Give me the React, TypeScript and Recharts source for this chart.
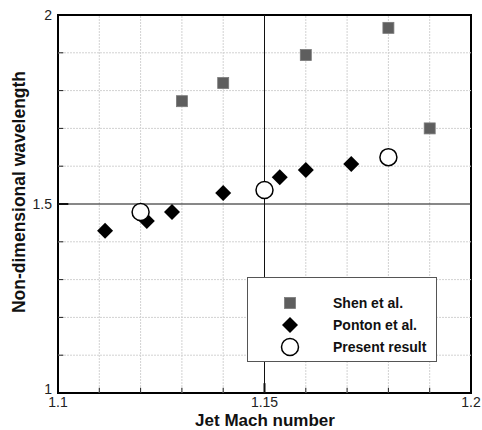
import {
  ScatterChart,
  Scatter,
  XAxis,
  YAxis,
  ReferenceLine,
  ReferenceArea,
  Legend,
} from 'recharts';

const SHEN_MACH = [1.13, 1.14, 1.16, 1.18, 1.19];
const SHEN_WAVE = [1.772, 1.82, 1.894, 1.966, 1.70];

const PONTON_MACH = [1.1114, 1.1215, 1.1276, 1.14, 1.1537, 1.16, 1.171];
const PONTON_WAVE = [1.429, 1.455, 1.479, 1.529, 1.571, 1.59, 1.606];

const PRESENT_MACH = [1.12, 1.15, 1.18];
const PRESENT_WAVE = [1.479, 1.537, 1.624];

const X_TICKS = [1.1, 1.15, 1.2];
const Y_TICKS = [1, 1.5, 2];
const X_MINOR = [1.11, 1.12, 1.13, 1.14, 1.16, 1.17, 1.18, 1.19];
const Y_MINOR = [1.1, 1.2, 1.3, 1.4, 1.6, 1.7, 1.8, 1.9];

const zip = (xs: number[], ys: number[]) => xs.map((x, i) => ({ x, y: ys[i] }));

const shen = zip(SHEN_MACH, SHEN_WAVE);
const ponton = zip(PONTON_MACH, PONTON_WAVE);
const present = zip(PRESENT_MACH, PRESENT_WAVE);

const FONT = '"Liberation Sans", Arial, sans-serif';
const GRID = '#d2d2d2';

type ShapeProps = { cx?: number; cy?: number };

const Square = ({ cx = 0, cy = 0 }: ShapeProps) => (
  <rect x={cx - 5.5} y={cy - 5.5} width={11} height={11} fill="#5e5e5e" stroke="#7a7a7a" strokeWidth={0.8} />
);

const Diamond = ({ cx = 0, cy = 0 }: ShapeProps) => (
  <path d={`M${cx},${cy - 8}L${cx + 8},${cy}L${cx},${cy + 8}L${cx - 8},${cy}Z`} fill="#000" />
);

const Ring = ({ cx = 0, cy = 0 }: ShapeProps) => (
  <circle cx={cx} cy={cy} r={8.5} fill="#fff" stroke="#000" strokeWidth={1.5} />
);

type TickProps = { x?: number; y?: number; payload?: { value: number } };

const XTick = ({ x = 0, y = 0, payload }: TickProps) => (
  <text x={x} y={y + 14} textAnchor="middle" fontFamily={FONT} fontSize={14} fill="#222">
    {String(payload?.value ?? '')}
  </text>
);

// the bottom label "1" sits a little above the axis corner
const YTick = ({ x = 0, y = 0, payload }: TickProps) => (
  <text
    x={x - 6}
    y={payload?.value === 1 ? y + 1 : y + 5}
    textAnchor="end"
    fontFamily={FONT}
    fontSize={14}
    fill="#222"
  >
    {String(payload?.value ?? '')}
  </text>
);

const LEGEND_ITEMS = [
  { name: 'Shen et al.', Shape: Square },
  { name: 'Ponton et al.', Shape: Diamond },
  { name: 'Present result', Shape: Ring },
];

const renderLegend = () => (
  <div
    style={{
      width: 190,
      height: 85,
      border: '1px solid #555',
      background: '#fff',
      boxSizing: 'border-box',
      paddingTop: 14,
      fontFamily: FONT,
    }}
  >
    {LEGEND_ITEMS.map(({ name, Shape }) => (
      <div key={name} style={{ display: 'flex', alignItems: 'center', height: 22 }}>
        <svg width={85} height={22}>
          <Shape cx={42} cy={11} />
        </svg>
        <span style={{ fontSize: 14, fontWeight: 'bold', color: '#111' }}>{name}</span>
      </div>
    ))}
  </div>
);

export default function App() {
  return (
    <div style={{ position: 'absolute', left: 0, top: 0, width: 482, height: 430, background: '#fff' }}>
      <ScatterChart width={482} height={430} margin={{ top: 15, right: 11, bottom: 0, left: 0 }}>
        <XAxis
          type="number"
          dataKey="x"
          domain={[1.1, 1.2]}
          ticks={X_TICKS}
          tick={<XTick />}
          tickSize={0}
          tickMargin={0}
          axisLine={false}
          height={37}
          allowDataOverflow
        />
        <YAxis
          type="number"
          dataKey="y"
          domain={[1, 2]}
          ticks={Y_TICKS}
          tick={<YTick />}
          tickSize={0}
          tickMargin={0}
          axisLine={false}
          width={58}
          allowDataOverflow
        />
        {X_MINOR.map((v) => (
          <ReferenceLine key={`gx${v}`} x={v} stroke={GRID} strokeDasharray="2 1" />
        ))}
        {Y_MINOR.map((v) => (
          <ReferenceLine key={`gy${v}`} y={v} stroke={GRID} strokeDasharray="2 1" />
        ))}
        {/* short inward ticks along the bottom and left axes */}
        {X_MINOR.map((v) => (
          <ReferenceLine key={`tx${v}`} segment={[{ x: v, y: 1 }, { x: v, y: 1.014 }]} stroke="#222" />
        ))}
        {Y_MINOR.map((v) => (
          <ReferenceLine key={`ty${v}`} segment={[{ x: 1.1, y: v }, { x: 1.1013, y: v }]} stroke="#222" />
        ))}
        <ReferenceLine x={1.15} stroke="#111" strokeWidth={1} />
        <ReferenceLine y={1.5} stroke="#111" strokeWidth={1} />
        <ReferenceLine segment={[{ x: 1.15, y: 1 }, { x: 1.15, y: 1.026 }]} stroke="#111" strokeWidth={2} />
        <ReferenceLine segment={[{ x: 1.1, y: 1.5 }, { x: 1.1025, y: 1.5 }]} stroke="#111" strokeWidth={2} />
        <ReferenceArea x1={1.1} x2={1.2} y1={1} y2={2} fill="none" stroke="#000" strokeWidth={2} ifOverflow="visible" />
        <Scatter name="Shen et al." data={shen} shape={<Square />} isAnimationActive={false} />
        <Scatter name="Ponton et al." data={ponton} shape={<Diamond />} isAnimationActive={false} />
        <Scatter name="Present result" data={present} shape={<Ring />} isAnimationActive={false} />
        <Legend
          content={renderLegend}
          layout="vertical"
          align="center"
          verticalAlign="middle"
          wrapperStyle={{ left: 247, top: 277, width: 190, height: 85 }}
        />
        <text x={265} y={426} textAnchor="middle" fontFamily={FONT} fontSize={17} fontWeight="bold" fill="#111">
          Jet Mach number
        </text>
        <text
          x={0}
          y={0}
          transform="translate(25,192) rotate(-90)"
          textAnchor="middle"
          fontFamily={FONT}
          fontSize={17.5}
          fontWeight="bold"
          fill="#111"
        >
          Non-dimensional wavelength
        </text>
      </ScatterChart>
    </div>
  );
}
